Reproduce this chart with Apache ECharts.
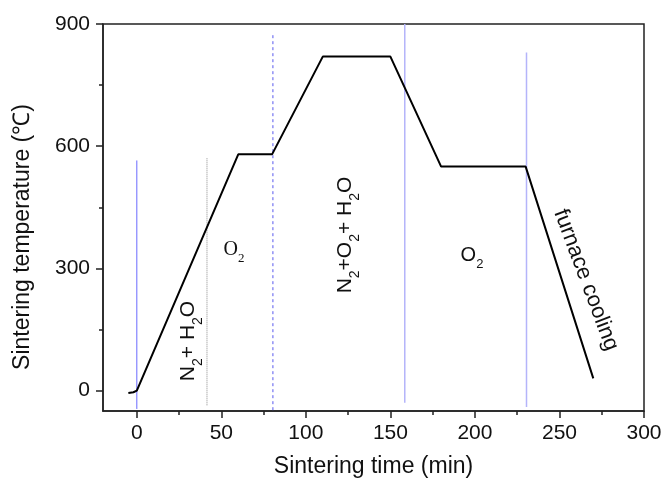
<!DOCTYPE html>
<html>
<head>
<meta charset="utf-8">
<script src="https://cdn.jsdelivr.net/npm/echarts@6/dist/echarts.min.js"></script>
<style>
  html, body { margin: 0; padding: 0; background: #fff; }
  #chart { width: 666px; height: 483px; }
</style>
</head>
<body>
<div id="chart"></div>
<script>
// sintering profile (time in min, temperature in C)
const timeMin = [-5, -2, 0, 60, 80, 110, 150, 180, 230, 270];
const tempC = [-6, -4, 0, 580, 580, 820, 820, 550, 550, 30];

// vertical guide lines between atmospheres
const guideX = [0, 41.5, 80.5, 158.5, 230.5];
const guideLow = [-45, -36, -48, -30, -40];
const guideHigh = [565, 573, 877, 900, 830];

// tick labels
const xMajor = [0, 50, 100, 150, 200, 250, 300];
const xMinor = [25, 75, 125, 175, 225, 275];
const yMajor = [0, 300, 600, 900];
const yMinor = [150, 450, 750];

const guideStyles = [
  { color: '#6a6aff', width: 1, type: 'solid' },
  { color: '#8a8a8a', width: 1, type: 'dotted' },
  { color: '#5858ee', width: 1, type: [3, 3] },
  { color: '#b4b4fa', width: 1.5, type: 'solid' },
  { color: '#b4b4fa', width: 1.5, type: 'solid' }
];

const chart = echarts.init(document.getElementById('chart'));
const font = 'Liberation Sans, Arial, sans-serif';
const axisColor = '#222';

let series = [
  {
    type: 'line',
    data: timeMin.map((t, i) => [t, tempC[i]]),
    symbol: 'none',
    smooth: false,
    lineStyle: { color: '#000', width: 2 },
    z: 5
  }
];
guideX.forEach((x, i) => {
  series.push({
    type: 'line',
    data: [[x, guideLow[i]], [x, guideHigh[i]]],
    symbol: 'none',
    lineStyle: guideStyles[i],
    z: 3
  });
});

const sub = { fontSize: 14, padding: [20, 0, 0, 0] };

let option = {
  animation: false,
  grid: {
    left: 103, top: 24, right: 22, bottom: 70,
    show: true, borderColor: axisColor, borderWidth: 1.5
  },
  xAxis: [
    {
      type: 'value', min: -20, max: 300, position: 'bottom',
      name: 'Sintering time (min)', nameLocation: 'middle', nameGap: 44,
      nameTextStyle: { fontSize: 23, fontFamily: font, color: '#111' },
      axisLine: { show: true, onZero: false, lineStyle: { color: axisColor, width: 1.5 } },
      axisTick: { show: true, customValues: xMajor, length: 7, lineStyle: { color: axisColor, width: 1.5 } },
      axisLabel: { customValues: xMajor, fontSize: 21, fontFamily: font, color: '#111', margin: 12 },
      splitLine: { show: false }
    },
    {
      type: 'value', min: -20, max: 300, position: 'bottom', offset: 0,
      axisLine: { show: false, onZero: false },
      axisTick: { show: true, customValues: xMinor, length: 4, lineStyle: { color: axisColor, width: 1.5 } },
      axisLabel: { show: false },
      splitLine: { show: false }
    }
  ],
  yAxis: [
    {
      type: 'value', min: -50, max: 900, position: 'left',
      axisLine: { show: true, onZero: false, lineStyle: { color: axisColor, width: 1.5 } },
      axisTick: { show: true, customValues: yMajor, length: 7, lineStyle: { color: axisColor, width: 1.5 } },
      axisLabel: { customValues: yMajor, fontSize: 21, fontFamily: font, color: '#111', margin: 13 },
      splitLine: { show: false }
    },
    {
      type: 'value', min: -50, max: 900, position: 'left', offset: 0,
      axisLine: { show: false, onZero: false },
      axisTick: { show: true, customValues: yMinor, length: 4, lineStyle: { color: axisColor, width: 1.5 } },
      axisLabel: { show: false },
      splitLine: { show: false }
    }
  ],
  series: series,
  graphic: [
    {
      type: 'text', x: 23, y: 237, rotation: Math.PI / 2,
      style: { text: 'Sintering temperature (℃)', font: '23px ' + font, fill: '#111', align: 'center', verticalAlign: 'middle' }
    },
    {
      type: 'text', x: 188, y: 341, rotation: Math.PI / 2,
      style: { text: 'N{s|2}+ H{s|2}O', font: '21px ' + font, fill: '#111', align: 'center', verticalAlign: 'middle', rich: { s: sub } }
    },
    {
      type: 'text', x: 234, y: 250,
      style: { text: 'O{s|2}', font: '20px Liberation Serif, Times New Roman, serif', fill: '#111', align: 'center', verticalAlign: 'middle',
        rich: { s: { fontSize: 13, fontFamily: 'Liberation Serif', padding: [18, 0, 0, 0] } } }
    },
    {
      type: 'text', x: 345, y: 235, rotation: Math.PI / 2,
      style: { text: 'N{s|2}+O{s|2}+ H{s|2}O', font: '21px ' + font, fill: '#111', align: 'center', verticalAlign: 'middle', rich: { s: sub } }
    },
    {
      type: 'text', x: 472, y: 255,
      style: { text: 'O{s|2}', font: '20px ' + font, fill: '#111', align: 'center', verticalAlign: 'middle',
        rich: { s: { fontSize: 13, padding: [18, 0, 0, 0] } } }
    },
    {
      type: 'text', x: 586, y: 280, rotation: -1.21,
      style: { text: 'furnace cooling', font: '22px ' + font, fill: '#111', align: 'center', verticalAlign: 'middle' }
    }
  ]
};

chart.setOption(option);
</script>
</body>
</html>
